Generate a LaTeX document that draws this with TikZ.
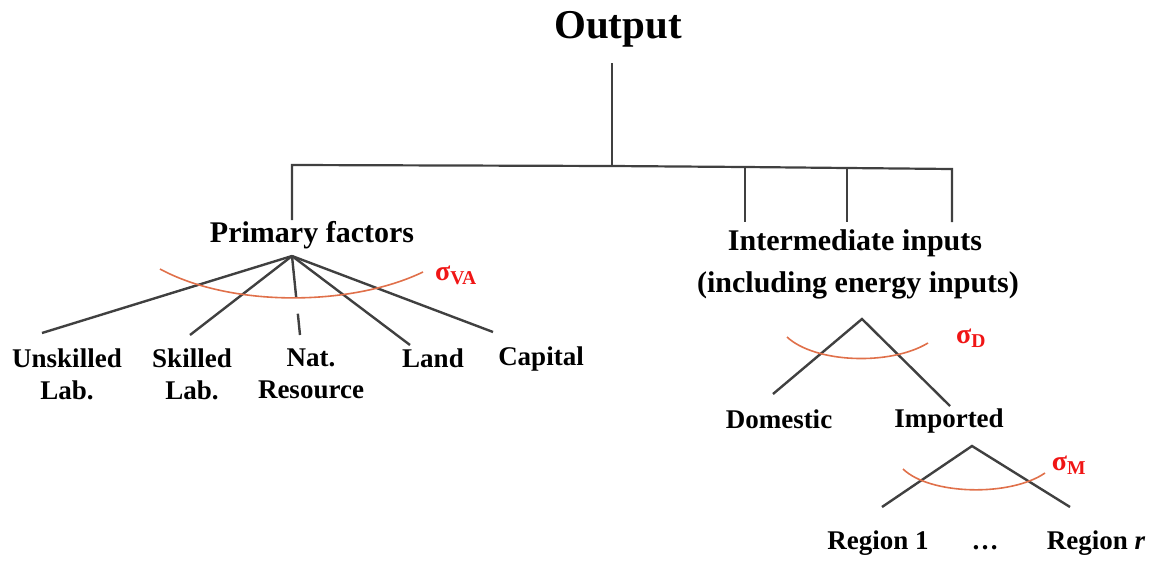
\documentclass[tikz,border=0pt]{standalone}
\usepackage{fontspec}
\setmainfont{Liberation Serif}
\definecolor{arcorange}{HTML}{E0704A}
\definecolor{sigred}{HTML}{F01515}
\definecolor{linegray}{HTML}{404040}
\begin{document}
\begin{tikzpicture}[x=1pt,y=-1pt,
  tree/.style={draw=linegray, line width=2.2pt},
  fan/.style={draw=linegray, line width=2.4pt},
  arcline/.style={draw=arcorange, line width=1.6pt},
  big/.style={font=\bfseries\fontsize{41}{41}\selectfont, inner sep=0pt},
  mid/.style={font=\bfseries\fontsize{30}{30}\selectfont, inner sep=0pt},
  lab/.style={font=\bfseries\fontsize{27}{32}\selectfont, align=center, inner sep=0pt},
  sig/.style={text=sigred, font=\bfseries\fontsize{28}{28}\selectfont, inner sep=0pt}]
\useasboundingbox (0,0) rectangle (1152,560);

% --- text nodes
\node[big, anchor=base] (out) at (618,38) {Output};
\node[mid, anchor=base] (prim) at (312,242) {Primary factors};
\node[mid, anchor=base] (inter) at (855,250) {Intermediate inputs};
\node[mid, anchor=base] (incl) at (858,292) {(including energy inputs)};
\node[lab] (unsk) at (67,374) {Unskilled\\Lab.};
\node[lab] (skil) at (192,374) {Skilled\\Lab.};
\node[lab] (nat) at (311,374) {Nat.\\Resource};
\node[lab, anchor=base] (land) at (433,367) {Land};
\node[lab, anchor=base] (cap) at (541,365) {Capital};
\node[lab, anchor=base] (dom) at (779,428) {Domestic};
\node[lab, anchor=base] (imp) at (949,427) {Imported};
\node[lab, anchor=base] (reg1) at (878,549) {Region 1};
\node[lab, anchor=base] (dots) at (985,549) {\dots};
\node[lab, anchor=base] (regr) at (1096,549) {Region \textit{r}};
\node[sig, anchor=base] (sva) at (456,280) {σ\textsubscript{VA}};
\node[sig, anchor=base] (sd) at (971,343) {σ\textsubscript{D}};
\node[sig, anchor=base] (sm) at (1069,470) {σ\textsubscript{M}};

% --- tree coordinates
\coordinate (otop) at (612,63);
\coordinate (hmid) at (612,166);
\coordinate (hl) at (292,165);
\coordinate (pftop) at (292,220);
\coordinate (h1) at (745,167);
\coordinate (h2) at (847,168);
\coordinate (h3) at (952,169);
\coordinate (v1) at (745,222);
\coordinate (v2) at (847,222);
\coordinate (v3) at (952,222);

\draw[tree] (otop) -- (hmid);
\draw[tree] (pftop) -- (hl) -- (hmid) -- (h1) -- (h2) -- (h3) -- (v3);
\draw[tree] (h1) -- (v1);
\draw[tree] (h2) -- (v2);

% --- primary factor fan
\coordinate (pa) at (292,256);
\coordinate (e1) at (42,333);
\coordinate (e2) at (190,335);
\coordinate (e3) at (300,335);
\coordinate (e4) at (410,345);
\coordinate (e5) at (493,332);
\draw[fan] (pa) -- (e1);
\draw[fan] (pa) -- (e2);
\draw[fan, dash pattern=on 42pt off 16pt] (pa) -- (e3);
\draw[fan] (pa) -- (e4);
\draw[fan] (pa) -- (e5);
\coordinate (a1s) at (160,269);
\coordinate (a1e) at (423,272);
\draw[arcline] (a1s) .. controls (230,307) and (350,307) .. (a1e);

% --- domestic / imported fan
\coordinate (da) at (862,319);
\coordinate (d1) at (773,394);
\coordinate (d2) at (950,406);
\draw[fan] (d1) -- (da) -- (d2);
\coordinate (a2s) at (787,337);
\coordinate (a2e) at (928,343);
\draw[arcline] (a2s) .. controls (815,363) and (890,366) .. (a2e);

% --- regions fan
\coordinate (ma) at (972,446);
\coordinate (m1) at (882,507);
\coordinate (m2) at (1070,507);
\draw[fan] (m1) -- (ma) -- (m2);
\coordinate (a3s) at (903,469);
\coordinate (a3e) at (1045,473);
\draw[arcline] (a3s) .. controls (930,495) and (1010,497) .. (a3e);
\end{tikzpicture}
\end{document}
